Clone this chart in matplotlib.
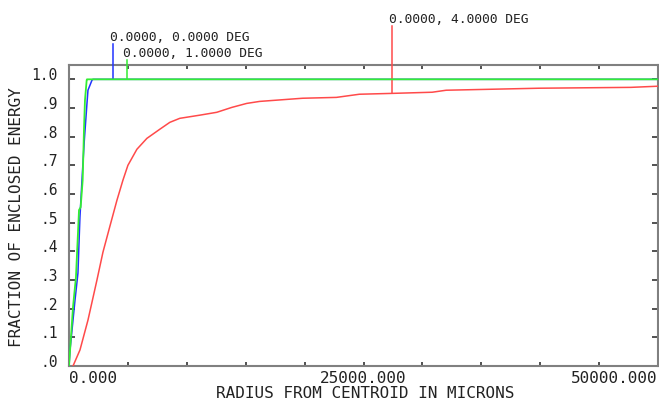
import matplotlib
matplotlib.use("Agg")
import matplotlib.pyplot as plt
import matplotlib.transforms as mtrans

# ---- data ----
green_x = [0, 340, 590, 850, 990, 1160, 1270, 1355, 1500, 1525, 50000]
green_y = [0.0, 0.206, 0.31, 0.544, 0.554, 0.648, 0.822, 0.927, 0.997, 1.0, 1.0]

blue_x = [0, 85, 170, 510, 760, 850, 930, 1140, 1300, 1525, 1610, 1950, 2030, 50000]
blue_y = [0.0, 0.056, 0.09, 0.23, 0.324, 0.43, 0.52, 0.676, 0.787, 0.916, 0.962, 0.997, 1.0, 1.0]

red_x = [340, 932, 1610, 2373, 2882, 3475, 4068, 4577, 5000, 5763, 6610, 7712, 8560,
         9407, 11102, 12543, 13814, 15085, 16187, 19820, 22700, 24650, 27440, 30830,
         32020, 39900, 47700, 50000]
red_y = [0.0, 0.056, 0.160, 0.300, 0.397, 0.488, 0.578, 0.648, 0.700, 0.756, 0.794,
         0.826, 0.850, 0.864, 0.875, 0.885, 0.902, 0.916, 0.923, 0.934, 0.937, 0.948,
         0.951, 0.955, 0.962, 0.969, 0.972, 0.976]

field_labels = ["0.0000, 0.0000 DEG", "0.0000, 1.0000 DEG", "0.0000, 4.0000 DEG"]
leader_x = [3730, 4915, 27440]
leader_y0 = [1.0, 1.0, 0.951]
leader_y1 = [1.125, 1.066, 1.185]
label_x = [3450, 4600, 27200]
label_y = [1.146, 1.09, 1.21]

yticks = [0.0, 0.1, 0.2, 0.3, 0.4, 0.5, 0.6, 0.7, 0.8, 0.9, 1.0]
ytick_labels = [".0", ".1", ".2", ".3", ".4", ".5", ".6", ".7", ".8", ".9", "1.0"]
xticks_major = [0, 25000, 50000]
xtick_labels = ["0.000", "25000.000", "50000.000"]
xticks_minor = [5000, 10000, 15000, 20000, 30000, 35000, 40000, 45000]

RED = "#ff4a4a"
GREEN = "#33ee33"
BLUE = "#2233ff"
FONT = "DejaVu Sans Mono"
TXT = "#222222"

fig = plt.figure(figsize=(6.59, 4.01), dpi=100)
ax = fig.add_axes([69 / 659, 1 - 366 / 401, (658 - 69) / 659, (366 - 65) / 401])

ax.plot(red_x, red_y, color=RED, lw=1.1, zorder=3)
ax.plot(blue_x, blue_y, color=BLUE, lw=1.1, zorder=3)
ax.plot(green_x, green_y, color=GREEN, lw=1.3, zorder=4)

colors = [BLUE, GREEN, RED]
for i in range(3):
    ax.plot([leader_x[i], leader_x[i]], [leader_y0[i], leader_y1[i]],
            color=colors[i], lw=1.1, clip_on=False, zorder=3)
    ax.text(label_x[i], label_y[i], field_labels[i], fontsize=9.3, family=FONT,
            ha="left", va="center", color=TXT, clip_on=False)

ax.set_xlim(0, 50000)
ax.set_ylim(0, 1.05)

ax.set_yticks(yticks)
ax.set_yticklabels(ytick_labels, family=FONT, fontsize=10.5)
ax.set_xticks(xticks_major)
ax.set_xticks(xticks_minor, minor=True)
ax.set_xticklabels(xtick_labels, family=FONT, fontsize=11.5)

ax.tick_params(axis="y", which="both", direction="in", length=4.5, width=1.2,
               color="#333333", right=True, pad=8, labelcolor=TXT)
ax.tick_params(axis="x", which="both", direction="in", length=3, width=1.2,
               color="#333333", top=True, pad=3.5, labelcolor=TXT)

# shift y tick labels slightly upward
off = mtrans.ScaledTranslation(0, 5 / 100, fig.dpi_scale_trans)
for lab in ax.get_yticklabels():
    lab.set_transform(lab.get_transform() + off)

xl = ax.get_xticklabels()
xl[0].set_ha("left")
xl[1].set_ha("center")
xl[2].set_ha("right")

for s in ax.spines.values():
    s.set_color("#808080")
    s.set_linewidth(1.5)

fig.text(365 / 659, 1 - 393 / 401, "RADIUS FROM CENTROID IN MICRONS", family=FONT,
         fontsize=11.5, color=TXT, ha="center", va="center")
fig.text(17 / 659, 1 - 217 / 401, "FRACTION OF ENCLOSED ENERGY", family=FONT,
         fontsize=11.5, color=TXT, ha="center", va="center", rotation=90)

fig.savefig("out.png", dpi=100, facecolor="white")
